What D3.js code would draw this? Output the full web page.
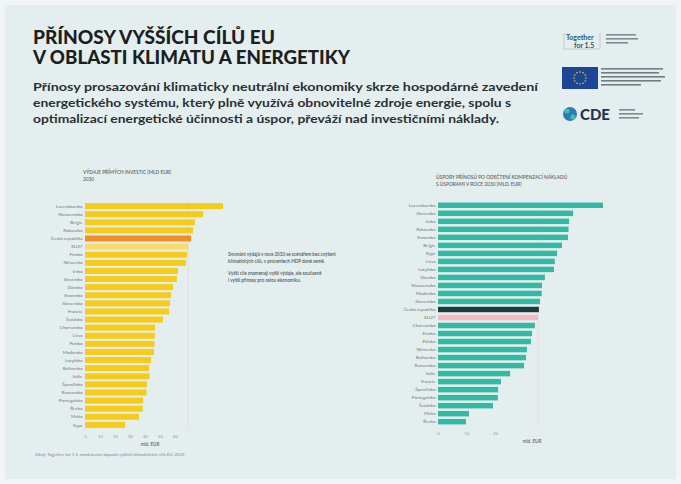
<!DOCTYPE html>
<html>
<head>
<meta charset="utf-8">
<script src="https://cdn.jsdelivr.net/npm/d3@7"></script>
<style>
  html, body { margin: 0; padding: 0; background: #f1f5f5; }
  svg { display: block; font-family: Lato, "Open Sans", sans-serif; }
  .lbl { font-size: 4.6px; fill: #6d7878; }
  .tick text { font-size: 4.4px; fill: #8a9595; }
</style>
</head>
<body>
<svg id="chart" width="681" height="484"></svg>
<script>
// --- data ------------------------------------------------------------------
const leftCountries = ['Lucembursko','Nizozemsko','Belgie','Rakousko','Česká republika','EU27','Finsko',
  'Německo','Irsko','Slovinsko','Dánsko','Estonsko','Slovensko','Francie','Švédsko','Chorvatsko','Litva',
  'Polsko','Maďarsko','Lotyšsko','Bulharsko','Itálie','Španělsko','Rumunsko','Portugalsko','Řecko','Malta','Kypr'];
const leftValues = [92, 78.7, 73.3, 72, 70.7, 68.7, 68, 67.3, 62, 61.3, 58.7, 57.3, 56.7, 56, 52,
  46.7, 46.5, 46.3, 46, 44, 42.7, 43, 41.3, 41, 38.7, 38.5, 36, 26.7];
const leftTicks = [0, 10, 20, 30, 40, 50, 60];

const rightCountries = ['Lucembursko','Slovinsko','Irsko','Rakousko','Estonsko','Belgie','Kypr','Litva',
  'Lotyšsko','Dánsko','Nizozemsko','Maďarsko','Slovensko','Česká republika','EU27','Chorvatsko','Finsko',
  'Polsko','Německo','Bulharsko','Rumunsko','Itálie','Francie','Španělsko','Portugalsko','Švédsko','Malta','Řecko'];
const rightValues = [57.9, 47.4, 46, 45.8, 45.6, 43.5, 41.8, 41, 40.7, 37.5, 36.5, 36.4, 35.8, 35.4, 35.1,
  34, 33, 32.6, 31.2, 30.9, 30.2, 25.3, 22.1, 21.1, 21, 19.3, 10.9, 9.8];
const rightTicks = [0, 10, 20];

const titleLines = ['PŘÍNOSY VYŠŠÍCH CÍLŮ EU', 'V OBLASTI KLIMATU A ENERGETIKY'];
const subtitleLines = [
  'Přínosy prosazování klimaticky neutrální ekonomiky skrze hospodárné zavedení',
  'energetického systému, který plně využívá obnovitelné zdroje energie, spolu s',
  'optimalizací energetické účinnosti a úspor, převáží nad investičními náklady.'
];

const svg = d3.select('#chart');

// background card
svg.append('rect').attr('x', 5).attr('y', 5).attr('width', 671).attr('height', 474).attr('fill', '#e5eeee');

// --- header ----------------------------------------------------------------
const tw = [242, 317];
titleLines.forEach(function (t, i) {
  svg.append('text').attr('x', 33).attr('y', 44 + i * 20).text(t)
    .attr('font-size', 18).attr('font-weight', 900).attr('fill', '#1b1f21')
    .attr('textLength', tw[i]).attr('lengthAdjust', 'spacingAndGlyphs');
});
const sw = [505, 478, 466];
subtitleLines.forEach(function (t, i) {
  svg.append('text').attr('x', 33).attr('y', 91 + i * 16).text(t)
    .attr('font-size', 11.5).attr('font-weight', 700).attr('fill', '#2a3033')
    .attr('textLength', sw[i]).attr('lengthAdjust', 'spacingAndGlyphs');
});

// --- logos (rough) -----------------------------------------------------------
const lg = svg.append('g');
lg.append('text').attr('x', 566).attr('y', 40).text('Together').attr('font-size', 7).attr('font-weight', 700).attr('fill', '#2c5a66');
lg.append('text').attr('x', 574).attr('y', 48).text('for 1.5').attr('font-size', 7).attr('font-weight', 700).attr('fill', '#2c5a66');
lg.append('path').attr('d', 'M564,33 v16 h36 v-16').attr('fill', 'none').attr('stroke', '#9fb2b6').attr('stroke-width', 0.6);
[0, 1, 2].forEach(function (i) {
  lg.append('rect').attr('x', 606).attr('y', 34 + i * 4).attr('width', [30, 32, 22][i]).attr('height', 1.6).attr('fill', '#7d8c90');
});
lg.append('rect').attr('x', 562).attr('y', 67).attr('width', 36).attr('height', 22).attr('fill', '#1d4596');
d3.range(12).forEach(function (i) {
  const a = i / 12 * 2 * Math.PI;
  lg.append('circle').attr('cx', 580 + 6 * Math.cos(a)).attr('cy', 78 + 6 * Math.sin(a)).attr('r', 0.8).attr('fill', '#f4d21b');
});
[0, 1, 2, 3, 4].forEach(function (i) {
  lg.append('rect').attr('x', 601).attr('y', 68 + i * 4).attr('width', [62, 58, 64, 60, 40][i]).attr('height', 1.6).attr('fill', '#6f7e83');
});
lg.append('circle').attr('cx', 570).attr('cy', 114).attr('r', 7).attr('fill', '#2d7bb6');
lg.append('circle').attr('cx', 567).attr('cy', 111).attr('r', 2.5).attr('fill', '#40c0b0');
lg.append('circle').attr('cx', 573).attr('cy', 117).attr('r', 2.5).attr('fill', '#40c0b0');
lg.append('text').attr('x', 580).attr('y', 120).text('CDE').attr('font-size', 15).attr('font-weight', 900).attr('fill', '#1f3553');
[0, 1, 2].forEach(function (i) {
  lg.append('rect').attr('x', 619).attr('y', 109 + i * 4).attr('width', [16, 24, 20][i]).attr('height', 1.6).attr('fill', '#7d8c90');
});

// --- bar chart helper --------------------------------------------------------
function barChart(opts) {
  const g = svg.append('g');
  const y = d3.scaleBand().domain(opts.names).range([opts.top, opts.bottom]).padding(opts.pad);
  const x = d3.scaleLinear().domain([0, opts.tickMax]).range([opts.left, opts.left + opts.tickWidth]);

  opts.title.forEach(function (t, i) {
    g.append('text').attr('x', opts.left - 2).attr('y', opts.titleY + i * 7).text(t)
      .attr('font-size', 4.8).attr('font-weight', 600).attr('fill', '#5d6868');
  });

  if (opts.refIndex != null) {
    g.append('line')
      .attr('x1', x(opts.values[opts.refIndex])).attr('x2', x(opts.values[opts.refIndex]))
      .attr('y1', opts.top).attr('y2', opts.bottom)
      .attr('stroke', opts.refColor).attr('stroke-width', 0.7).attr('opacity', 0.35);
  }

  g.selectAll('rect.bar').data(opts.values).enter().append('rect')
    .attr('class', 'bar')
    .attr('x', x(0))
    .attr('y', function (d, i) { return y(opts.names[i]); })
    .attr('width', function (d) { return x(d) - x(0); })
    .attr('height', y.bandwidth())
    .attr('fill', function (d, i) { return opts.colorOf(i); });

  g.selectAll('text.lbl').data(opts.names).enter().append('text')
    .attr('class', 'lbl')
    .attr('x', opts.left - 2.5)
    .attr('y', function (d) { return y(d) + y.bandwidth() / 2; })
    .attr('dy', '0.35em').attr('text-anchor', 'end')
    .text(function (d) { return d; });

  const ax = g.append('g').attr('transform', 'translate(0,' + (opts.bottom + 3) + ')')
    .call(d3.axisBottom(x).tickValues(opts.ticks).tickSize(0).tickPadding(2));
  ax.select('.domain').remove();

  g.append('text').attr('x', opts.unitX).attr('y', opts.bottom + 16).text(opts.unit)
    .attr('text-anchor', 'middle').attr('font-size', 4.6).attr('font-weight', 600).attr('fill', '#5d6868');
  return g;
}

barChart({
  names: leftCountries, values: leftValues, ticks: leftTicks, tickMax: 60, tickWidth: 90,
  left: 85, top: 201, bottom: 430, titleY: 174, pad: 0.26,
  title: ['VÝDAJE PŘÍMÝCH INVESTIC (MLD EUR)', '2030'],
  unit: 'mld. EUR', unitX: 150,
  refIndex: 5, refColor: '#e9a0b0',
  colorOf: function (i) { return i === 4 ? '#f08f2a' : (i === 5 ? '#f6dc6a' : '#f5cb1c'); }
});

barChart({
  names: rightCountries, values: rightValues, ticks: rightTicks, tickMax: 20, tickWidth: 57,
  left: 438, top: 200, bottom: 427, titleY: 179, pad: 0.32,
  title: ['ÚSPORY PŘÍNOSŮ PO ODEČTENÍ KOMPENZACÍ NÁKLADŮ', 'S ÚSPORAMI V ROCE 2030 (MLD. EUR)'],
  unit: 'mld. EUR', unitX: 532,
  refIndex: 14, refColor: '#f0b0bc',
  colorOf: function (i) { return i === 13 ? '#1d3b38' : (i === 14 ? '#f2b9c3' : '#33baa5'); }
});

// annotation on the left chart
const notes = [
  ['Srovnání výdajů v roce 2030 se scénářem bez zvýšení', 'klimatických cílů, v procentech HDP dané země.'],
  ['Vyšší cíle znamenají vyšší výdaje, ale současně', 'i vyšší přínosy pro celou ekonomiku.']
];
notes.forEach(function (n, j) {
  n.forEach(function (t, i) {
    svg.append('text').attr('x', 228).attr('y', 256 + j * 19 + i * 6.5).text(t)
      .attr('font-size', 4.6).attr('font-weight', 600).attr('fill', '#4d5858');
  });
});

// footer
svg.append('text').attr('x', 35).attr('y', 456)
  .text('Zdroj: Together for 1.5, modelování dopadů vyšších klimatických cílů EU, 2021')
  .attr('font-size', 4.4).attr('fill', '#7e8a8a');
</script>
</body>
</html>
